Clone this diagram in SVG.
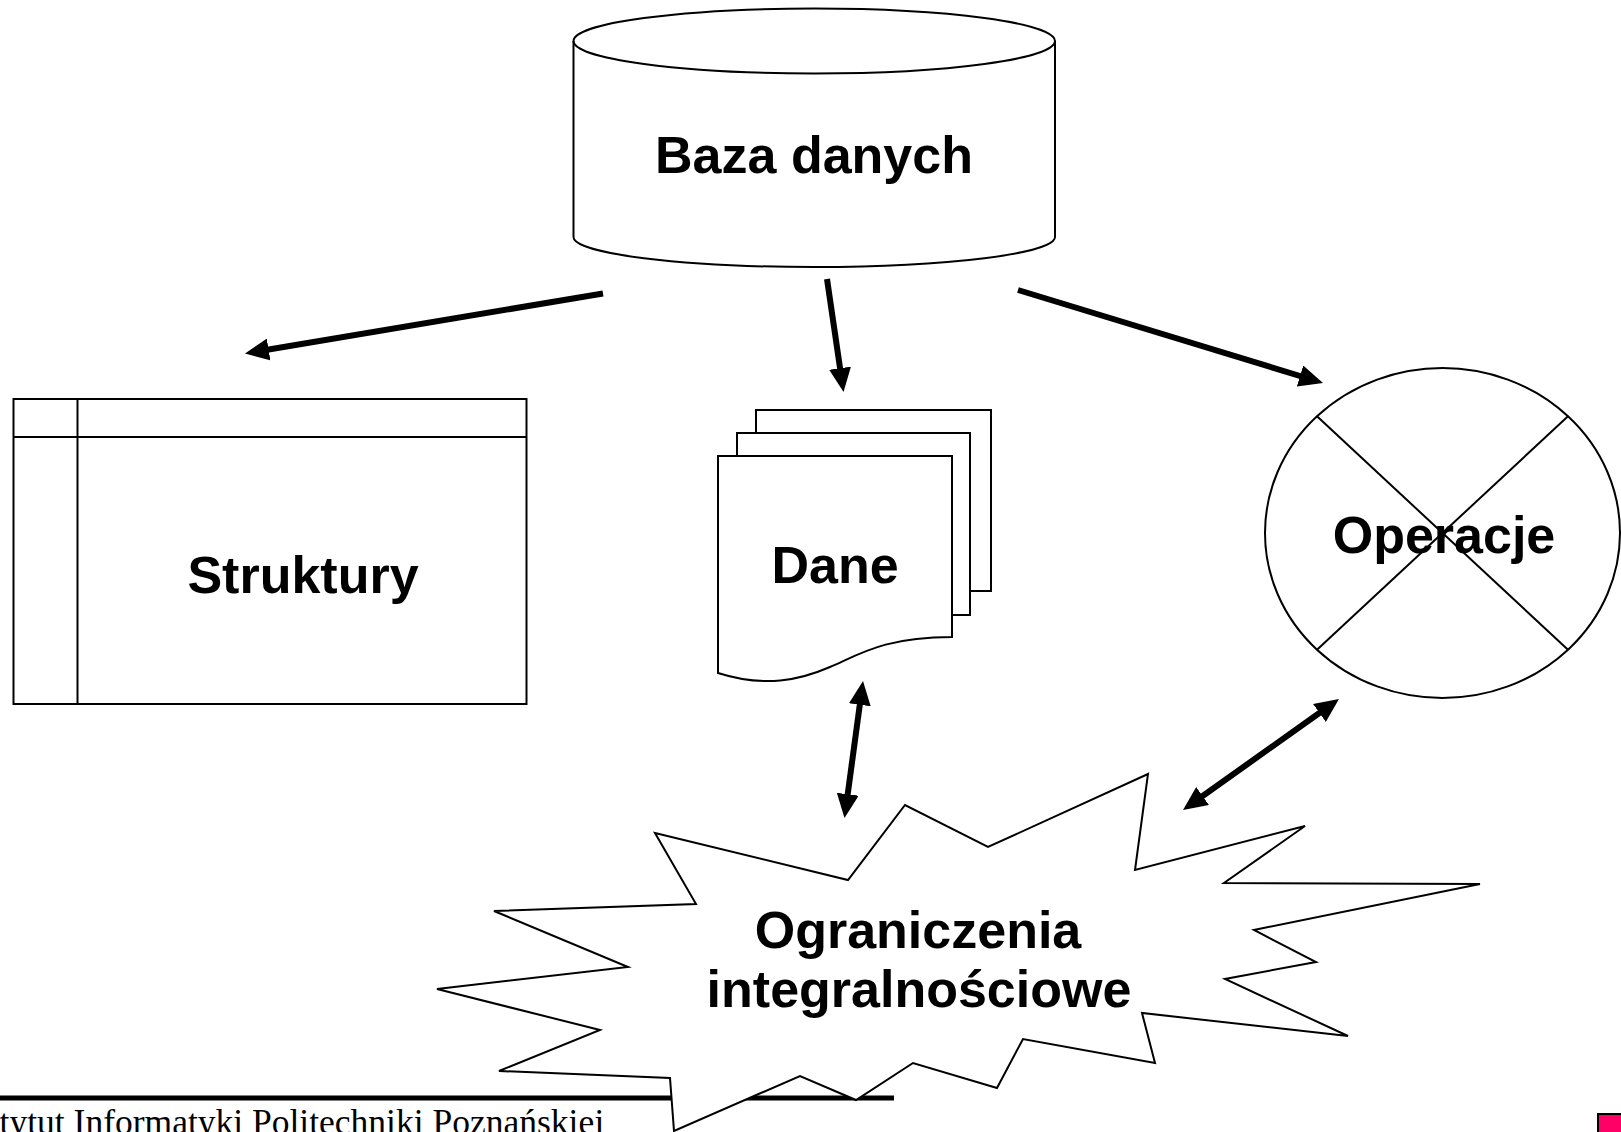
<svg xmlns="http://www.w3.org/2000/svg" width="1621" height="1132" viewBox="0 0 1621 1132">
<defs>
<style>
.shape{fill:#fff;stroke:#000;stroke-width:2;stroke-linejoin:miter}
.thin{fill:none;stroke:#000;stroke-width:2}
.lbl{font-family:"Liberation Sans",Arial,sans-serif;font-weight:bold;font-size:52px;fill:#000;text-anchor:middle}
.conn{fill:none;stroke:#000;stroke-width:6}
</style>
<marker id="ah" viewBox="0 0 24 22" markerWidth="24" markerHeight="22" refX="12" refY="11" orient="auto-start-reverse" markerUnits="userSpaceOnUse">
<path d="M0,0 L24,11 L0,22 Z" fill="#000"/>
</marker>
</defs>
<rect width="1621" height="1132" fill="#fff"/>

<g id="footer">
<line x1="0" y1="1098" x2="894" y2="1098" stroke="#000" stroke-width="5"/>
<text x="604" y="1134" font-family="'Liberation Serif','Times New Roman',serif" font-size="35.5" text-anchor="end" fill="#000">tytut Informatyki Politechniki Poznańskiej</text>
<rect x="1598" y="1114" width="40" height="40" fill="#FF0066" stroke="#000" stroke-width="2"/>
</g>

<g id="baza-danych">
<path class="shape" d="M573.5,41 A240.7,32.5 0 0 1 1055,41 L1055,237 A240.7,30 0 0 1 573.5,237 Z"/>
<path class="thin" d="M573.5,41 A240.7,32.5 0 0 0 1055,41"/>
<text class="lbl" x="814" y="173" font-size="53">Baza danych</text>
</g>

<g id="struktury">
<rect class="shape" x="13.5" y="399" width="513" height="305"/>
<line class="thin" x1="77.5" y1="399" x2="77.5" y2="704"/>
<line class="thin" x1="13.5" y1="437" x2="526.5" y2="437"/>
<text class="lbl" x="303" y="593">Struktury</text>
</g>

<g id="dane">
<rect class="shape" x="756" y="410" width="235" height="181"/>
<rect class="shape" x="737" y="433" width="233" height="182"/>
<path class="shape" d="M718,456 L952,456 L952,637 C885,637 860,654 830,667 C800,680 765,688 718,673 Z"/>
<text class="lbl" x="835" y="583">Dane</text>
</g>

<g id="operacje">
<ellipse class="shape" cx="1442.5" cy="533" rx="177.5" ry="165"/>
<line class="thin" x1="1317" y1="416.3" x2="1568" y2="649.7"/>
<line class="thin" x1="1568" y1="416.3" x2="1317" y2="649.7"/>
<text class="lbl" x="1444" y="553">Operacje</text>
</g>

<g id="ograniczenia">
<polygon class="shape" points="655,833 848,880 905,805 988,847 1148,774 1135,870 1305,826 1224,883 1480,884 1254,930 1316,962 1225,979 1348,1036 1142,1013 1155,1063 1023,1039 997,1088 913,1063 856,1100 800,1076 674,1131 670,1078 499,1071 600,1030 437,989 628,967 494,911 696,904"/>
<text class="lbl" x="918" y="948" font-size="53.5">Ograniczenia</text>
<text class="lbl" x="919" y="1007" font-size="53.5">integralnościowe</text>
</g>

<g id="connectors">
<line class="conn" x1="603" y1="293.5" x2="256.8" y2="351.5" marker-end="url(#ah)"/>
<line class="conn" x1="827" y1="279" x2="841.8" y2="380.1" marker-end="url(#ah)"/>
<line class="conn" x1="1018" y1="290" x2="1311.5" y2="379.5" marker-end="url(#ah)"/>
<line class="conn" x1="861.4" y1="692.9" x2="846.1" y2="806.1" marker-start="url(#ah)" marker-end="url(#ah)"/>
<line class="conn" x1="1329.2" y1="706" x2="1192.8" y2="803" marker-start="url(#ah)" marker-end="url(#ah)"/>
</g>
</svg>
